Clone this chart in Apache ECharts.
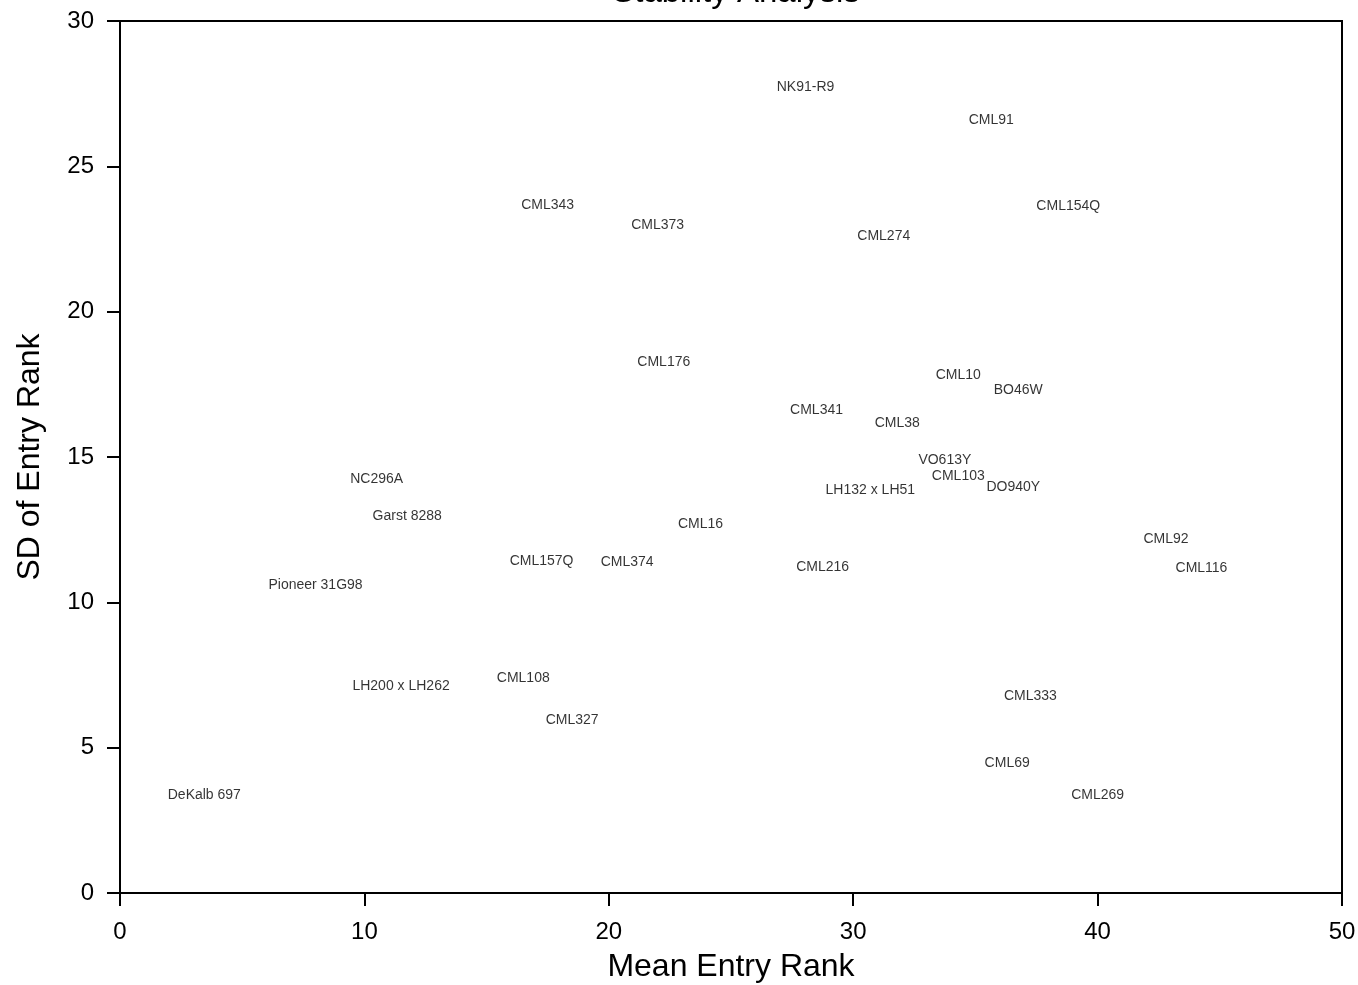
<!DOCTYPE html>
<html>
<head>
<meta charset="utf-8">
<script src="https://cdn.jsdelivr.net/npm/echarts@6/dist/echarts.min.js"></script>
<style>
  html, body { margin: 0; padding: 0; background: #fff; }
  #main { width: 1358px; height: 985px; }
</style>
</head>
<body>
<div id="main"></div>
<script>
// entry names and their (mean rank, sd of rank)
const entries = ['NK91-R9', 'CML91', 'CML343', 'CML373', 'CML274', 'CML154Q', 'CML176',
  'CML10', 'BO46W', 'CML341', 'CML38', 'VO613Y', 'CML103', 'DO940Y', 'LH132 x LH51',
  'NC296A', 'Garst 8288', 'CML16', 'CML157Q', 'CML374', 'CML216', 'CML92', 'CML116',
  'Pioneer 31G98', 'CML108', 'LH200 x LH262', 'CML327', 'CML333', 'CML69', 'CML269', 'DeKalb 697'];
const meanRank = [28.05, 35.65, 17.5, 22.0, 31.25, 38.8, 22.25,
  34.3, 36.75, 28.5, 31.8, 33.75, 34.3, 36.55, 30.7,
  10.5, 11.75, 23.75, 17.25, 20.75, 28.75, 42.8, 44.25,
  8.0, 16.5, 11.5, 18.5, 37.25, 36.3, 40.0, 3.45];
const sdRank = [27.72, 26.6, 23.66, 22.97, 22.6, 23.63, 18.26,
  17.81, 17.3, 16.61, 16.16, 14.89, 14.34, 13.96, 13.86,
  14.24, 12.96, 12.69, 11.42, 11.38, 11.21, 12.17, 11.17,
  10.59, 7.39, 7.12, 5.95, 6.77, 4.47, 3.37, 3.37];

const chart = echarts.init(document.getElementById('main'));

const points = entries.map((n, i) => ({ name: n, value: [meanRank[i], sdRank[i]] }));

const axisCommon = {
  axisLine: { show: true, lineStyle: { color: '#000', width: 2 } },
  axisTick: { show: true, inside: false, length: 13, lineStyle: { color: '#000', width: 2 } },
  axisLabel: { color: '#000', fontSize: 24, fontFamily: 'Liberation Sans' },
  splitLine: { show: false },
  nameLocation: 'middle',
  nameTextStyle: { color: '#000', fontSize: 32, fontFamily: 'Liberation Sans' }
};

chart.setOption({
  backgroundColor: '#fff',
  animation: false,
  title: {
    text: 'Stability Analysis',
    left: 731,
    textAlign: 'center',
    top: -29,
    textStyle: { color: '#000', fontSize: 33, fontWeight: 'normal', fontFamily: 'Liberation Sans' }
  },
  grid: {
    left: 120, right: 16, top: 21, bottom: 92,
    containLabel: false,
    outerBoundsMode: 'none',
    show: true, borderColor: '#000', borderWidth: 2
  },
  xAxis: Object.assign({}, axisCommon, {
    type: 'value', min: 0, max: 50, interval: 10,
    name: 'Mean Entry Rank', nameGap: 58,
    axisLabel: Object.assign({}, axisCommon.axisLabel, { margin: 27 })
  }),
  yAxis: Object.assign({}, axisCommon, {
    type: 'value', min: 0, max: 30, interval: 5,
    name: 'SD of Entry Rank', nameGap: 74,
    axisLabel: Object.assign({}, axisCommon.axisLabel, { margin: 26 })
  }),
  series: [{
    type: 'scatter',
    data: points,
    symbolSize: 1,
    itemStyle: { color: 'rgba(0,0,0,0)' },
    label: {
      show: true,
      position: 'inside',
      formatter: p => p.name,
      color: '#000',
      textBorderWidth: 0,
      fontSize: 14,
      fontFamily: 'Liberation Sans'
    },
    labelLayout: { hideOverlap: false }
  }]
});
</script>
</body>
</html>
